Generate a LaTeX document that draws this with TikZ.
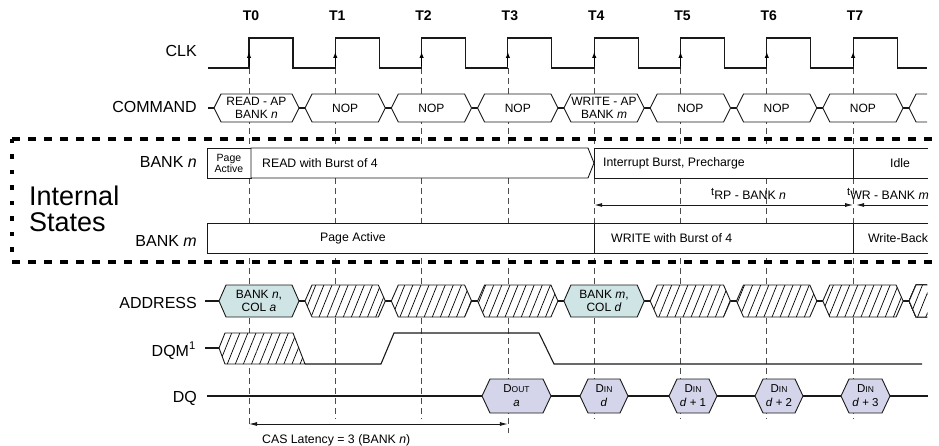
\documentclass[tikz,border=0pt]{standalone}
\usepackage{fontspec}
\setmainfont{Liberation Sans}
\usetikzlibrary{arrows.meta,patterns.meta}
\definecolor{addrfill}{HTML}{CFE4E4}
\definecolor{dqfill}{HTML}{D4D4EA}
\newcommand\hexbox[6]{%
  \path[#6] (#1,#3) -- (#1+#5,#3-#4) -- (#2-#5,#3-#4) -- (#2,#3) -- (#2-#5,#3+#4) -- (#1+#5,#3+#4) -- cycle;}
\newcommand\tsup{{\fontsize{11}{12}\selectfont\raisebox{4.5pt}{t}}}
\tikzset{
  >={Latex[length=8pt,width=4pt]},
  sig/.style={line width=1.1pt, black!90},
  tline/.style={line width=0.8pt, black!70, dash pattern=on 6pt off 4pt},
  bus/.style={draw, line width=0.9pt, black!90, fill=white},
  abox/.style={draw, line width=0.9pt, black!90, fill=addrfill},
  dbox/.style={draw, line width=0.9pt, black!90, fill=dqfill},
  hatch/.style={fill=white, postaction={pattern={Lines[angle=68,distance=7.5pt,line width=0.7pt]}}, postaction={draw, line width=0.9pt, black!90}},
  sbox/.style={draw, line width=0.9pt, black!90, fill=white},
  lbl/.style={anchor=base east, inner sep=0pt, font=\fontsize{16}{18}\selectfont},
  tlab/.style={anchor=base, inner sep=0pt, font=\fontsize{14}{16}\selectfont\bfseries},
  ctxt/.style={align=center, inner sep=0pt, font=\fontsize{12}{13}\selectfont},
  itxt/.style={inner sep=0pt, font=\fontsize{12.3}{14}\selectfont},
  arr/.style={line width=0.9pt, black!90},
}
\begin{document}
\begin{tikzpicture}[x=1pt,y=-1pt]
\useasboundingbox (0,0) rectangle (939,446);

% time grid lines and labels
\foreach \t/\e [count=\i from 0] in {249/428,335.3/419,421.6/419,507.9/433,594.2/419,680.5/419,766.8/419,853.1/419} {
  \draw[tline] (\t,68) -- (\t,\e);
  \node[tlab] (T\i) at (\t+2,21) {T\i};
}

% Internal states frame
\draw[line width=3.8pt, dash pattern=on 8pt off 8pt] (12,139) -- (945,139);
\draw[line width=3.8pt, dash pattern=on 8pt off 8pt] (12,262) -- (945,262);
\draw[line width=3.8pt, dash pattern=on 4.5pt off 11pt] (12,139) -- (12,262);
\node[anchor=base west, inner sep=0pt, font=\fontsize{27}{30}\selectfont] (int) at (29,206) {Internal};
\node[anchor=base west, inner sep=0pt, font=\fontsize{27}{30}\selectfont] (sta) at (29,232) {States};

% labels
\node[lbl] (clk) at (197,57) {CLK};
\node[lbl] (command) at (197,113) {COMMAND};
\node[lbl] (bankn) at (197,168) {BANK \textit{n}};
\node[lbl] (bankm) at (197,247) {BANK \textit{m}};
\node[lbl] (address) at (197,308) {ADDRESS};
\node[lbl] (dqm) at (196,356) {DQM\textsuperscript{1}};
\node[lbl] (dq) at (197,402) {DQ};

% CLK
\draw[sig] (208,68) foreach \t in {249,335.3,421.6,507.9,594.2,680.5,766.8,853.1} { -- (\t,68) -- (\t,38) -- (\t+44,38) -- (\t+44,68) } -- (927,68);
\foreach \t in {249,335.3,421.6,507.9,594.2,680.5,766.8,853.1}
  \draw[line width=1pt, -{Latex[length=6pt,width=4.5pt]}] (\t,66) -- (\t,52);

% COMMAND
\draw[sig] (208,108) -- (214,108);
\foreach \a/\b in {299/305,385.3/391.3,471.6/477.6,557.9/563.9,644.2/650.2,730.5/736.5,816.8/822.8,903.1/909.1}
  \draw[sig] (\a,108) -- (\b,108);
\hexbox{214}{299}{108}{14}{7}{bus}
\node[ctxt] (cmd0) at (256.5,108) {READ - AP\\BANK \textit{n}};
\hexbox{563.9}{644.2}{108}{14}{7}{bus}
\node[ctxt] (cmd4) at (604,108) {WRITE - AP\\BANK \textit{m}};
\foreach \a/\b/\n in {305/385.3/1,391.3/471.6/2,477.6/557.9/3,650.2/730.5/5,736.5/816.8/6,822.8/903.1/7} {
  \hexbox{\a}{\b}{108}{14}{7}{bus}
  \node[ctxt] (cmd\n) at ({(\a+\b)/2},108) {NOP};
}
\path[fill=white] (927,94) -- (916,94) -- (909.1,108) -- (916,122) -- (927,122);
\draw[line width=0.9pt, black!90] (927,94) -- (916,94) -- (909.1,108) -- (916,122) -- (927,122);

% BANK n
\draw[sbox] (207,148) rectangle (251,178);
\node[align=center, inner sep=0pt, font=\fontsize{10.5}{11}\selectfont] (pa1) at (229,163) {Page\\Active};
\draw[sbox] (251,148) -- (588,148) -- (594,163) -- (588,178) -- (251,178) -- cycle;
\node[itxt, anchor=west] (rd) at (262,163) {READ with Burst of 4};
\draw[sbox] (594,148) rectangle (853,178);
\node[itxt, anchor=west] (ib) at (603,163) {Interrupt Burst, Precharge};
\path[fill=white] (853,148) rectangle (928,178);
\draw[line width=0.9pt, black!90] (928,148) -- (853,148) -- (853,178) -- (928,178);
\node[itxt] (idle) at (900,163) {Idle};

% timing arrows
\coordinate (rpa) at (594.2,205);
\coordinate (rpb) at (853.1,205);
\coordinate (wra) at (856,205);
\coordinate (wrb) at (928,205);
\draw[arr, <->] (rpa) -- (rpb);
\draw[arr, ->] (wrb) -- (wra);
\node[itxt, anchor=base west] (trp) at (711,200) {\tsup RP - BANK \textit{n}};
\node[itxt, anchor=base west] (twr) at (847,200) {\tsup WR - BANK \textit{m}};

% BANK m
\draw[sbox] (207,223) rectangle (594.2,253);
\node[itxt] (pa2) at (353,238) {Page Active};
\draw[sbox] (594.2,223) rectangle (853.1,253);
\node[itxt, anchor=west] (wb4) at (611,238) {WRITE with Burst of 4};
\path[fill=white] (853.1,223) rectangle (928,253);
\draw[line width=0.9pt, black!90] (928,223) -- (853.1,223) -- (853.1,253) -- (928,253);
\node[itxt] (wbk) at (898,238) {Write-Back};

% ADDRESS
\draw[sig] (205,301) -- (219,301);
\foreach \a/\b in {299/305,385.3/391.3,471.6/477.6,557.9/563.9,644.2/650.2,730.5/736.5,816.8/822.8,903.1/909.1}
  \draw[sig] (\a,301) -- (\b,301);
\hexbox{219}{299}{301}{16}{7}{abox}
\node[ctxt] (ad0) at (259,301) {BANK \textit{n},\\COL \textit{a}};
\hexbox{563.9}{644.2}{301}{16}{7}{abox}
\node[ctxt] (ad4) at (604,301) {BANK \textit{m},\\COL \textit{d}};
\foreach \a/\b in {305/385.3,391.3/471.6,477.6/557.9,650.2/730.5,736.5/816.8,822.8/903.1}
  \hexbox{\a}{\b}{301}{16}{7}{hatch}
\path[hatch] (927,285) -- (916,285) -- (909.1,301) -- (916,317) -- (927,317);

% DQM
\draw[sig] (205,348) -- (219,348);
\path[hatch] (219,348) -- (225,333) -- (293,333) -- (305,364) -- (225,364) -- cycle;
\draw[sig] (305,364) -- (381,364) -- (394,333) -- (539,333) -- (554,364) -- (922,364);

% DQ
\draw[sig] (207,396) -- (928,396);
\hexbox{482}{551}{396}{17}{8}{dbox}
\node[ctxt, font=\fontsize{11.5}{14}\selectfont] (dout) at (516.5,396) {D{\fontsize{8.5}{9}\selectfont OUT}\\\textit{a}};
\foreach \a/\b/\s [count=\k] in {580/628/,669/717/ + 1,755/803/ + 2,841/890/ + 3} {
  \hexbox{\a}{\b}{396}{17}{8}{dbox}
  \node[ctxt, font=\fontsize{11.5}{14}\selectfont] (din\k) at ({(\a+\b)/2},396) {D{\fontsize{8.5}{9}\selectfont IN}\\\textit{d}\s};
}

% CAS latency
\coordinate (casa) at (249,424);
\coordinate (casb) at (507.9,424);
\draw[arr, <->] (casa) -- (casb);
\node[itxt, anchor=base west] (cas) at (262,443) {CAS Latency = 3 (BANK \textit{n})};
\end{tikzpicture}
\end{document}
